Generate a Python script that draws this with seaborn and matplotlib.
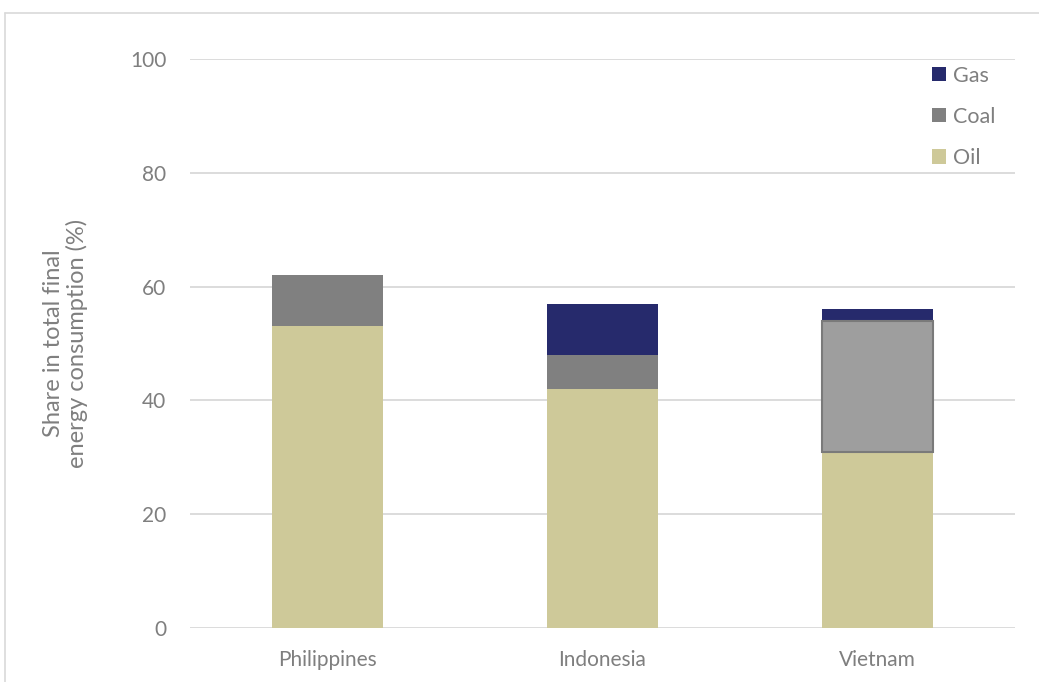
import matplotlib
matplotlib.use("Agg")
import matplotlib.pyplot as plt
from matplotlib.lines import Line2D
from matplotlib.patches import Patch
import numpy as np
import pandas as pd
import seaborn as sns

countries = ["Philippines", "Indonesia", "Vietnam"]
oil = [53, 42, 31]
coal = [9, 6, 23]
gas = [0, 9, 2]
y_ticks = [0, 20, 40, 60, 80, 100]

colors = {"Oil": "#CEC999", "Coal": "#808080", "Gas": "#262A6C"}
text_color = "#7F7F7F"

sns.set_theme(style="white")
plt.rcParams["font.family"] = ["Lato", "DejaVu Sans"]

df = pd.DataFrame({"country": countries, "Oil": oil, "Coal": coal, "Gas": gas})
df["oil_top"] = df["Oil"]
df["coal_top"] = df["Oil"] + df["Coal"]
df["gas_top"] = df["coal_top"] + df["Gas"]

fig = plt.figure(figsize=(10.39, 6.82), dpi=100)
ax = fig.add_axes([190 / 1039, 54 / 682, 825 / 1039, 569 / 682])

ax.set_axisbelow(True)
ax.yaxis.grid(True, color="#D9D9D9", linewidth=1.3)

# Stacked bars: draw cumulative totals from top layer down
width = 0.405
sns.barplot(data=df, x="country", y="gas_top", color=colors["Gas"], width=width,
            saturation=1, ax=ax, zorder=2)
sns.barplot(data=df, x="country", y="coal_top", color=colors["Coal"], width=width,
            saturation=1, ax=ax, zorder=3)
sns.barplot(data=df, x="country", y="oil_top", color=colors["Oil"], width=width,
            saturation=1, ax=ax, zorder=4)

for p in ax.patches:
    p.set_linewidth(0)

# Vietnam coal segment: lighter fill with darker outline, spanning only its own slice
n = len(countries)
i = countries.index("Vietnam")
vn_coal = ax.patches[n + i]
vn_coal.set_y(df.loc[i, "oil_top"])
vn_coal.set_height(df.loc[i, "Coal"])
vn_coal.set_facecolor("#9E9E9E")
vn_coal.set_edgecolor("#7A7A7A")
vn_coal.set_linewidth(1.5)
vn_coal.set_zorder(5)

ax.set_xlim(-0.5, 2.5)
ax.set_ylim(0, 100)
ax.set_yticks(y_ticks)
ax.set_yticklabels([str(t) for t in y_ticks])
ax.tick_params(axis="both", length=0, labelsize=15, colors=text_color)
ax.tick_params(axis="y", pad=17)
ax.tick_params(axis="x", pad=16)
ax.set_xlabel("")
ax.set_ylabel("Share in total final\nenergy consumption (%)", fontsize=17,
              color=text_color, labelpad=30, linespacing=1.1)
for s in ax.spines.values():
    s.set_visible(False)

handles = [Patch(facecolor=colors[k], edgecolor="none", label=k) for k in ["Gas", "Coal", "Oil"]]
leg = fig.legend(handles=handles, loc="upper left", bbox_to_anchor=(921 / 1039, 1 - 55 / 682),
                 frameon=False, fontsize=15.5, labelcolor=text_color,
                 handlelength=0.65, handleheight=0.65, handletextpad=0.35,
                 labelspacing=0.98, borderpad=0)

# Light outline around the chart area
fig.add_artist(Line2D([5 / 1039, 5 / 1039], [0, 1 - 13 / 682], transform=fig.transFigure,
                      color="#D9D9D9", linewidth=1.2))
fig.add_artist(Line2D([5 / 1039, 1], [1 - 13 / 682, 1 - 13 / 682], transform=fig.transFigure,
                      color="#D9D9D9", linewidth=1.2))

fig.savefig("out.png", dpi=100, facecolor="white")
